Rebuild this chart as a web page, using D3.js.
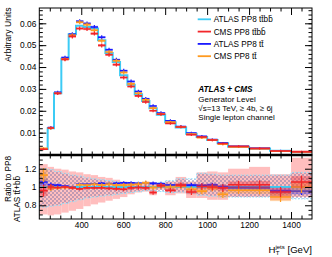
<!DOCTYPE html>
<html><head><meta charset="utf-8">
<script src="https://cdn.jsdelivr.net/npm/d3@7"></script>
<style>body{margin:0;background:#fff} svg{display:block} text{font-family:"Liberation Sans",Arial,Helvetica,sans-serif;fill:#000}</style>
</head><body><svg id="c" width="332" height="257"></svg>
<script>
// ---------- data ----------
const binEdges = [200,240,270,305,340,375,410,445,480,515,550,585,620,655,690,725,760,800,850,900,950,1000,1050,1100,1200,1300,1400,1500];
const atlasTtbb = [0.0025,0.0120,0.0280,0.0438,0.0550,0.0589,0.0583,0.0576,0.0522,0.0464,0.0423,0.0362,0.0319,0.0275,0.0245,0.0212,0.0182,0.0147,0.0124,0.0095,0.0080,0.0066,0.0051,0.0036,0.0027,0.0017,0.0012];
const cmsTtbb   = [0.0024,0.0121,0.0279,0.0435,0.0540,0.0576,0.0574,0.0553,0.0499,0.0456,0.0411,0.0352,0.0311,0.0268,0.0240,0.0200,0.0184,0.0142,0.0126,0.0090,0.0080,0.0066,0.0050,0.0037,0.0028,0.0016,0.0013];
const atlasTt   = [0.0026,0.0123,0.0285,0.0443,0.0550,0.0609,0.0599,0.0583,0.0536,0.0479,0.0433,0.0383,0.0334,0.0288,0.0255,0.0222,0.0190,0.0154,0.0128,0.0098,0.0083,0.0068,0.0052,0.0037,0.0028,0.0017,0.0012];
const cmsTt     = [0.0028,0.0120,0.0280,0.0436,0.0545,0.0605,0.0594,0.0568,0.0520,0.0469,0.0429,0.0375,0.0323,0.0280,0.0250,0.0212,0.0185,0.0148,0.0126,0.0093,0.0077,0.0066,0.0047,0.0035,0.0026,0.0015,0.0012];
const statRel   = [0.06,0.025,0.012,0.01,0.01,0.01,0.01,0.01,0.011,0.012,0.013,0.014,0.015,0.016,0.017,0.018,0.02,0.02,0.022,0.025,0.028,0.03,0.035,0.035,0.04,0.05,0.06];
// ratio to ATLAS PP8 ttbb
const ratioCmsTtbb  = [0.96,1.0,0.995,1.0,0.99,0.98,0.99,0.99,0.99,0.985,0.98,0.975,0.99,0.995,0.99,0.94,1.015,0.965,1.02,0.945,1.005,1.0,0.99,1.025,1.025,0.945,1.055];
const ratioAtlasTt  = [1.055,1.025,1.02,1.01,1.0,1.03,1.03,1.035,1.04,1.035,1.04,1.045,1.045,1.04,1.045,1.04,1.035,1.02,1.02,1.02,1.015,1.02,1.0,0.99,0.99,0.955,0.955];
const ratioCmsTt    = [1.13,0.99,0.99,0.995,0.995,1.025,1.02,1.03,1.02,1.03,1.02,1.02,1.025,1.03,1.045,0.995,1.01,1.0,1.01,0.975,0.955,0.99,0.92,0.965,0.965,0.89,1.0];
const cmsBandHi = [1.25,1.22,1.20,1.19,1.17,1.16,1.14,1.13,1.11,1.10,1.08,1.06,1.05,1.04,1.03,1.055,1.04,1.06,1.11,1.06,1.16,1.17,1.16,1.20,1.22,1.14,1.32];
const cmsBandLo = [0.70,0.69,0.70,0.72,0.74,0.76,0.79,0.81,0.83,0.85,0.87,0.89,0.92,0.94,0.95,0.91,0.97,0.91,0.93,0.88,0.88,0.86,0.86,0.89,0.89,0.855,0.89];
const atlasBandHi = [1.20,1.19,1.17,1.15,1.13,1.12,1.10,1.09,1.08,1.07,1.06,1.05,1.05,1.05,1.04,1.04,1.05,1.07,1.09,1.09,1.15,1.14,1.13,1.13,1.13,1.13,1.16];
const atlasBandLo = [0.78,0.79,0.80,0.82,0.84,0.86,0.88,0.89,0.90,0.91,0.92,0.93,0.94,0.95,0.96,0.96,0.95,0.94,0.945,0.93,0.91,0.90,0.89,0.89,0.89,0.91,0.87];
const xTicks = [400,600,800,1000,1200,1400];
const yTicksTop = [0.01,0.02,0.03,0.04,0.05,0.06];
const yTicksRatio = [0.8,1,1.2];
const legendLabels = ["ATLAS PP8 tt\u0304bb\u0304","CMS PP8 tt\u0304bb\u0304","ATLAS PP8 tt\u0304","CMS PP8 tt\u0304"];
const infoLines = ["Generator Level","\u221As=13 TeV, \u2265 4b, \u2265 6j","Single lepton channel"];

// ---------- layout ----------
const L=39.3, R=312, T=8, M=155, B=219;
const colCyan="#3ccbf5", colRed="#f2262a", colBlue="#1a1aff", colOrange="#ff9a1f";
const svg=d3.select("#c");
const x=d3.scaleLinear().domain([200,1500]).range([L,R]);
const yTop=d3.scaleLinear().domain([0,0.067]).range([154.5,T]);
const yRat=d3.scaleLinear().domain([0.65,1.35]).range([B,M]);
const bins=atlasTtbb.map((v,i)=>({i,x0:binEdges[i],x1:binEdges[i+1]}));

const defs=svg.append("defs");
defs.append("clipPath").attr("id","cTop").append("rect").attr("x",L).attr("y",T).attr("width",R-L).attr("height",M-T);
defs.append("clipPath").attr("id","cBot").append("rect").attr("x",L).attr("y",M).attr("width",R-L).attr("height",B-M);
const pat=defs.append("pattern").attr("id","chk").attr("patternUnits","userSpaceOnUse").attr("width",4).attr("height",4);
pat.append("rect").attr("x",0).attr("y",0).attr("width",2).attr("height",2).attr("fill","rgba(90,95,160,0.38)");
pat.append("rect").attr("x",2).attr("y",2).attr("width",2).attr("height",2).attr("fill","rgba(90,95,160,0.38)");

// ---------- upper panel ----------
const gTop=svg.append("g").attr("clip-path","url(#cTop)");
const stepLine=(vals,ys)=>{const pts=[];vals.forEach((v,i)=>{pts.push([x(binEdges[i]),ys(v)]);pts.push([x(binEdges[i+1]),ys(v)]);});return d3.line()(pts);};
gTop.append("path").attr("d",stepLine(atlasTtbb,yTop)).attr("fill","none").attr("stroke",colCyan).attr("stroke-width",2);

function drawMarkers(g,vals,ys,col,relOf){
  const s=g.append("g");
  bins.forEach(b=>{
    const v=vals[b.i], e=relOf(b.i);
    const xa=x(b.x0), xb=x(b.x1), xc=(xa+xb)/2;
    s.append("rect").attr("x",xa).attr("width",xb-xa).attr("y",ys(v+e)).attr("height",Math.max(0.8,ys(v-e)-ys(v+e))).attr("fill",col).attr("opacity",0.35);
    s.append("line").attr("x1",xa).attr("x2",xb).attr("y1",ys(v)).attr("y2",ys(v)).attr("stroke",col).attr("stroke-width",1.6);
    s.append("line").attr("x1",xc).attr("x2",xc).attr("y1",ys(v+e)-0.8).attr("y2",ys(v-e)+0.8).attr("stroke",col).attr("stroke-width",1.2);
  });
}
drawMarkers(gTop,atlasTt,yTop,colBlue,i=>atlasTt[i]*statRel[i]);
drawMarkers(gTop,cmsTt,yTop,colOrange,i=>cmsTt[i]*statRel[i]);
drawMarkers(gTop,cmsTtbb,yTop,colRed,i=>cmsTtbb[i]*statRel[i]);

// ---------- ratio panel ----------
const gBot=svg.append("g").attr("clip-path","url(#cBot)");
gBot.selectAll("rect.pink").data(bins).join("rect").attr("class","pink")
  .attr("x",d=>x(d.x0)).attr("width",d=>x(d.x1)-x(d.x0))
  .attr("y",d=>yRat(cmsBandHi[d.i])).attr("height",d=>yRat(cmsBandLo[d.i])-yRat(cmsBandHi[d.i]))
  .attr("fill","#ffb3b3").attr("opacity",0.85);
gBot.selectAll("rect.chk").data(bins).join("rect").attr("class","chk")
  .attr("x",d=>x(d.x0)).attr("width",d=>x(d.x1)-x(d.x0))
  .attr("y",d=>yRat(atlasBandHi[d.i])).attr("height",d=>yRat(atlasBandLo[d.i])-yRat(atlasBandHi[d.i]))
  .attr("fill","url(#chk)");
[atlasBandHi,atlasBandLo].forEach(arr=>{
  gBot.append("path").attr("d",stepLine(arr,yRat)).attr("fill","none").attr("stroke","#8fe4ff").attr("stroke-width",1).attr("stroke-dasharray","1.5,1.5");
});
gBot.append("path").attr("d",stepLine(atlasTtbb.map(()=>1),yRat)).attr("fill","none").attr("stroke",colCyan).attr("stroke-width",2);
drawMarkers(gBot,ratioAtlasTt,yRat,colBlue,i=>ratioAtlasTt[i]*statRel[i]*0.6);
drawMarkers(gBot,ratioCmsTt,yRat,colOrange,i=>ratioCmsTt[i]*statRel[i]);
drawMarkers(gBot,ratioCmsTtbb,yRat,colRed,i=>ratioCmsTtbb[i]*statRel[i]);

// ---------- axes ----------
function axisGroup(axis){const g=svg.append("g").call(axis);g.select(".domain").remove();g.selectAll("line").attr("stroke","#000").attr("stroke-width",1);return g;}
const fsTick="8.4px";
let g=axisGroup(d3.axisLeft(yTop).tickValues(yTicksTop).tickSize(-7).tickPadding(3).tickFormat(d3.format(".2f")));
g.attr("transform",`translate(${L},0)`); g.selectAll("text").style("font-size",fsTick);
g=axisGroup(d3.axisLeft(yTop).tickValues(d3.range(0.002,0.067,0.002)).tickSize(-3.5).tickFormat(""));g.attr("transform",`translate(${L},0)`);
g=axisGroup(d3.axisRight(yTop).tickValues(yTicksTop).tickSize(-7).tickFormat(""));g.attr("transform",`translate(${R},0)`);
g=axisGroup(d3.axisRight(yTop).tickValues(d3.range(0.002,0.067,0.002)).tickSize(-3.5).tickFormat(""));g.attr("transform",`translate(${R},0)`);
const xMinor=d3.range(250,1500,50);
[[T,"top"],[M,"bottomU"],[M,"topL"],[B,"bottom"]].forEach(([yy,kind])=>{
  const up=(kind==="bottomU"||kind==="bottom");
  const mk=(vals,len)=>axisGroup((up?d3.axisBottom(x):d3.axisTop(x)).tickValues(vals).tickSize(-len).tickFormat("")).attr("transform",`translate(0,${yy})`);
  mk(xTicks,7); mk(xMinor.filter(v=>!xTicks.includes(v)),3.5);
});
g=axisGroup(d3.axisBottom(x).tickValues(xTicks).tickSize(0).tickPadding(3.5).tickFormat(d3.format("d")));
g.attr("transform",`translate(0,${B})`); g.selectAll("text").style("font-size",fsTick);
g=axisGroup(d3.axisLeft(yRat).tickValues(yTicksRatio).tickSize(-7).tickPadding(3).tickFormat(d=>d===1?"1":d3.format(".1f")(d)));
g.attr("transform",`translate(${L},0)`); g.selectAll("text").style("font-size",fsTick);
const rMinor=d3.range(0.7,1.35,0.05).filter(v=>!yTicksRatio.some(t=>Math.abs(t-v)<1e-6));
g=axisGroup(d3.axisLeft(yRat).tickValues(rMinor).tickSize(-3.5).tickFormat(""));g.attr("transform",`translate(${L},0)`);
g=axisGroup(d3.axisRight(yRat).tickValues(yTicksRatio).tickSize(-7).tickFormat(""));g.attr("transform",`translate(${R},0)`);
g=axisGroup(d3.axisRight(yRat).tickValues(rMinor).tickSize(-3.5).tickFormat(""));g.attr("transform",`translate(${R},0)`);

// frames
svg.append("rect").attr("x",L).attr("y",T).attr("width",R-L).attr("height",M-T).attr("fill","none").attr("stroke","#000").attr("stroke-width",1);
svg.append("rect").attr("x",L).attr("y",M).attr("width",R-L).attr("height",B-M).attr("fill","none").attr("stroke","#000").attr("stroke-width",1);
svg.append("line").attr("x1",L).attr("x2",R).attr("y1",M).attr("y2",M).attr("stroke","#000").attr("stroke-width",2.4);

// titles
svg.append("text").attr("transform","translate(10.8,7.5) rotate(-90)").attr("text-anchor","end").style("font-size","8.6px").text("Arbitrary Units");
svg.append("text").attr("transform","translate(10.5,179) rotate(-90)").attr("text-anchor","middle").style("font-size","8.2px").text("Ratio to PP8");
svg.append("text").attr("transform","translate(19.8,199) rotate(-90)").attr("text-anchor","middle").style("font-size","8.2px").text("ATLAS tt\u0304+bb\u0304");
const xt=svg.append("text").attr("x",R).attr("y",253).attr("text-anchor","end").style("font-size","9.6px");
xt.append("tspan").text("H");
xt.append("tspan").attr("dy",-4.5).style("font-size","6px").text("jets");
xt.append("tspan").attr("dy",4.5).text(" [GeV]");
const hExt=xt.node().getExtentOfChar(1);
svg.append("text").attr("x",hExt.x+0.3).attr("y",254.5).style("font-size","6px").text("T");

// legend
const legCols=[colCyan,colRed,colBlue,colOrange];
legendLabels.forEach((t,i)=>{
  const yy=19.3+12.3*i;
  svg.append("line").attr("x1",197.7).attr("x2",211).attr("y1",yy).attr("y2",yy).attr("stroke",legCols[i]).attr("stroke-width",1.8);
  svg.append("text").attr("x",213.7).attr("y",yy+3).style("font-size","8.2px").text(t);
});
svg.append("text").attr("x",198.3).attr("y",92.3).style("font-size","8.2px").style("font-weight","bold").style("font-style","italic").text("ATLAS + CMS");
infoLines.forEach((t,i)=>svg.append("text").attr("x",198.3).attr("y",101.5+9*i).style("font-size","8px").text(t));
</script></body></html>
